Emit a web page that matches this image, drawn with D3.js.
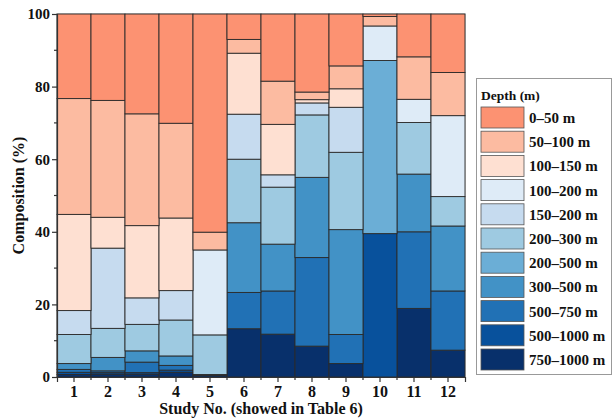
<!DOCTYPE html>
<html><head><meta charset="utf-8">
<script src="https://cdn.jsdelivr.net/npm/d3@7"></script>
<style>body{margin:0;background:#fff}svg{display:block}text{font-family:"Liberation Serif","Times New Roman",serif;font-weight:bold}</style>
</head><body><svg id="c" width="613" height="419"></svg>
<script>
const studies = ["1","2","3","4","5","6","7","8","9","10","11","12"];
const depthBins = ["0–50 m","50–100 m","100–150 m","100–200 m","150–200 m","200–300 m","200–500 m","300–500 m","500–750 m","500–1000 m","750–1000 m"];
const colors = ["#fc9272","#fcbba1","#fee0d2","#deebf7","#c6dbef","#9ecae1","#6baed6","#4292c6","#2171b5","#08519c","#08306b"];
// values per depth bin (%), one per study
const d0_50     = [23.3,23.8,27.5,30.1,60.1, 7.0,18.5,21.5,14.3, 0.7,11.8,16.1];
const d50_100   = [31.9,32.2,30.8,26.1, 4.9, 3.8,11.9, 2.1, 6.3, 2.6,11.7,11.9];
const d100_150  = [26.5, 8.5,19.9,20.0, 0.0,16.8,13.9, 0.9, 5.1, 0.0, 0.0, 0.0];
const d100_200  = [ 0.0, 0.0, 0.0, 0.0,23.4, 0.0, 0.0, 0.0, 0.0, 9.5, 6.4,22.3];
const d150_200  = [ 6.6,22.1, 7.3, 8.1, 0.0,12.4, 3.4, 3.3,12.4, 0.0, 0.0, 0.0];
const d200_300  = [ 8.0, 8.0, 7.3, 9.9,10.9,17.5,15.7,17.2,21.3, 0.0,14.2, 8.1];
const d200_500  = [ 0.0, 0.0, 0.0, 0.0, 0.0, 0.0, 0.0, 0.0, 0.0,47.7, 0.0, 0.0];
const d300_500  = [ 1.6, 3.7, 3.1, 2.6, 0.0,19.2,12.9,22.1,28.9, 0.0,15.9,17.9];
const d500_750  = [ 0.8, 0.5, 2.9, 1.3, 0.3,10.0,11.9,24.4, 8.0, 0.0,21.1,16.3];
const d500_1000 = [ 0.6, 0.4, 0.4, 0.6, 0.0, 0.0, 0.0, 0.0, 0.0,39.5, 0.0, 0.0];
const d750_1000 = [ 0.7, 0.8, 0.8, 1.3, 0.4,13.3,11.8, 8.5, 3.7, 0.0,18.9, 7.4];
const series = [d0_50,d50_100,d100_150,d100_200,d150_200,d200_300,d200_500,d300_500,d500_750,d500_1000,d750_1000];
const yTicks = [0,20,40,60,80,100];

const svg = d3.select("#c");
const L=57, R=465, T=14, B=377;
const x = d3.scaleBand().domain(studies).range([L,R]).padding(0);
const y = d3.scaleLinear().domain([0,100]).range([B,T]);

const rows = studies.map((s,i)=>{const o={study:s};depthBins.forEach((k,j)=>o[k]=series[j][i]);return o;});
// stack from bottom: deepest first
const keys = depthBins.slice().reverse();
const stack = d3.stack().keys(keys)(rows);
const colorOf = d3.scaleOrdinal().domain(depthBins).range(colors);

// frame
svg.append("rect").attr("x",L).attr("y",T).attr("width",R-L).attr("height",B-T).attr("fill","none").attr("stroke","#aaa").attr("stroke-width",1);

svg.append("g").selectAll("g").data(stack).join("g").attr("fill",d=>colorOf(d.key))
 .selectAll("rect").data(d=>d.filter(p=>p[1]-p[0]>0)).join("rect")
 .attr("x",d=>x(d.data.study)).attr("width",x.bandwidth())
 .attr("y",d=>y(d[1])).attr("height",d=>y(d[0])-y(d[1]))
 .attr("stroke","#2a2a2a").attr("stroke-width",0.9);

// y axis
const ya = svg.append("g").attr("transform",`translate(${L},0)`)
 .call(d3.axisLeft(y).tickValues(yTicks).tickSize(5).tickPadding(2));
ya.select(".domain").attr("stroke","#333").attr("stroke-width",1.2);
ya.selectAll(".tick line").attr("stroke","#333").attr("stroke-width",1.2);
ya.selectAll("text").attr("font-size",15).attr("fill","#111").style("font-family","Liberation Serif").style("font-weight","bold");
svg.append("g").selectAll("line").data(d3.range(10,100,20)).join("line")
 .attr("x1",L-3).attr("x2",L).attr("y1",d=>y(d)).attr("y2",d=>y(d)).attr("stroke","#333").attr("stroke-width",1.2);

// x axis
const xa = svg.append("g").attr("transform",`translate(0,${B})`)
 .call(d3.axisBottom(x).tickSize(5).tickPadding(4));
xa.select(".domain").attr("stroke","#333").attr("stroke-width",1.2);
xa.selectAll(".tick line").attr("stroke","#333").attr("stroke-width",1.2);
xa.selectAll("text").attr("font-size",16).attr("fill","#111").style("font-family","Liberation Serif").style("font-weight","bold");
svg.append("g").selectAll("line").data(studies.slice(1)).join("line")
 .attr("x1",d=>x(d)).attr("x2",d=>x(d)).attr("y1",B).attr("y2",B+3).attr("stroke","#333").attr("stroke-width",1.2);

// titles
svg.append("text").attr("transform",`translate(24,${(T+B)/2}) rotate(-90)`).attr("text-anchor","middle")
 .attr("font-size",16).attr("fill","#111").text("Composition (%)");
svg.append("text").attr("x",(L+R)/2).attr("y",414).attr("text-anchor","middle")
 .attr("font-size",16).attr("fill","#111").text("Study No. (showed in Table 6)");

// legend
const lg = svg.append("g");
lg.append("rect").attr("x",476.5).attr("y",78.5).attr("width",135).attr("height",296).attr("fill","#fff").attr("stroke","#999");
lg.append("text").attr("x",481).attr("y",100).attr("font-size",13.5).attr("fill","#111").text("Depth (m)");
const items = lg.selectAll("g.it").data(depthBins).join("g").attr("class","it")
 .attr("transform",(d,i)=>`translate(481,${107+i*24.2})`);
items.append("rect").attr("width",43).attr("height",21).attr("fill",d=>colorOf(d)).attr("stroke","#555").attr("stroke-width",0.8);
items.append("text").attr("x",48).attr("y",16).attr("font-size",15).attr("fill","#111").text(d=>d);
</script></body></html>
